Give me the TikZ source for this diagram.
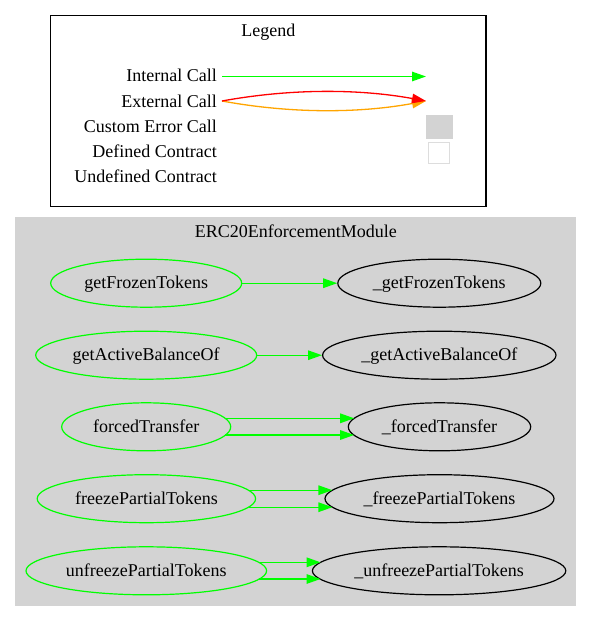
\documentclass[tikz,border=0pt]{standalone}
\usepackage{fontspec}
\setmainfont{Liberation Serif}
\usetikzlibrary{shapes.geometric,arrows.meta,calc}
\definecolor{clgray}{HTML}{D3D3D3}
\definecolor{lime}{HTML}{00FF00}
\definecolor{orng}{HTML}{FFA500}
\definecolor{boxgray}{HTML}{DDDDDD}
\begin{document}
\begin{tikzpicture}[x=1pt,y=-1pt,
  every node/.style={font=\fontsize{18}{21.6}\selectfont},
  fn/.style={ellipse, draw=lime, line width=1.2pt, minimum height=48pt, inner sep=0pt, text height=13pt, text depth=2pt},
  rn/.style={ellipse, draw=black, line width=1.2pt, minimum height=48pt, inner sep=0pt, text height=13pt, text depth=2pt},
  call/.style={draw=lime, line width=1.4pt, -{Triangle[length=14pt,width=9.5pt]}},
  redcall/.style={draw=red, line width=1.3pt, -{Triangle[length=14pt,width=9.5pt]}},
  orcall/.style={draw=orng, line width=1.3pt, -{Triangle[length=14pt,width=9.5pt]}},
  lbl/.style={anchor=base east, inner sep=0pt},
  ttl/.style={anchor=base, inner sep=0pt}
]
\useasboundingbox (0,0) rectangle (592,621);
\fill[white] (0,0) rectangle (592,621);

% Legend
\node[draw=black, line width=1.1pt, minimum width=435.5pt, minimum height=190.8pt, inner sep=0pt] (legend) at (268.25,110.9) {};
\node[ttl] (legendtitle) at (268.3,36) {Legend};
\node[lbl] (lint) at (217,81.8) {Internal Call};
\node[lbl] (lext) at (217,107) {External Call};
\node[lbl] (lerr) at (217,132.2) {Custom Error Call};
\node[lbl] (ldef) at (217,157.4) {Defined Contract};
\node[lbl] (lund) at (217,182.6) {Undefined Contract};
\coordinate (ic1) at (222,76.5);
\coordinate (ic2) at (426,76.5);
\coordinate (ec1) at (222,101);
\coordinate (ec2) at (426,101);
\draw[call] (ic1) -- (ic2);
\draw[orcall] (ec1) .. controls (290,113.5) and (358,113.5) .. (ec2);
\draw[redcall] (ec1) .. controls (290,88.6) and (358,88.6) .. (ec2);
\node[fill=clgray, minimum width=26.7pt, minimum height=24.3pt, inner sep=0pt] (errbox) at (439.3,127.2) {};
\node[draw=boxgray, line width=1.3pt, minimum width=21pt, minimum height=21pt, inner sep=0pt] (defbox) at (439.2,153.3) {};

% Cluster
\node[fill=clgray, minimum width=561pt, minimum height=389pt, inner sep=0pt] (module) at (295.8,411.2) {};
\node[ttl] (moduletitle) at (295.8,237.7) {ERC20EnforcementModule};

\node[fn, minimum width=191pt] (gft) at (146.2,283.2) {getFrozenTokens};
\node[rn, minimum width=203pt] (rgft) at (439.3,283.2) {\_getFrozenTokens};
\node[fn, minimum width=221pt] (gab) at (146.2,355.2) {getActiveBalanceOf};
\node[rn, minimum width=233.4pt] (rgab) at (439.3,355.2) {\_getActiveBalanceOf};
\node[fn, minimum width=169pt] (ft) at (146.2,426.8) {forcedTransfer};
\node[rn, minimum width=182.4pt] (rft) at (439.5,426.8) {\_forcedTransfer};
\node[fn, minimum width=218.4pt] (fpt) at (146.4,498.7) {freezePartialTokens};
\node[rn, minimum width=229pt] (rfpt) at (439.5,498.7) {\_freezePartialTokens};
\node[fn, minimum width=240.6pt] (upt) at (146.3,570.8) {unfreezePartialTokens};
\node[rn, minimum width=253.4pt] (rupt) at (439.1,570.8) {\_unfreezePartialTokens};

\draw[call] (gft.east) -- (rgft.west);
\draw[call] (gab.east) -- (rgab.west);
\draw[call] ($(ft.center)+(79.0,-8.5)$) -- ($(rft.center)+(-85.3,-8.5)$);
\draw[call] ($(ft.center)+(79.0,8.2)$) -- ($(rft.center)+(-85.4,8.2)$);
\draw[call] ($(fpt.center)+(102.1,-8.5)$) -- ($(rfpt.center)+(-107.1,-8.5)$);
\draw[call] ($(fpt.center)+(102.1,8.5)$) -- ($(rfpt.center)+(-107.1,8.5)$);
\draw[call] ($(upt.center)+(112.5,-8.5)$) -- ($(rupt.center)+(-118.5,-8.5)$);
\draw[call] ($(upt.center)+(112.6,8.2)$) -- ($(rupt.center)+(-118.6,8.2)$);
\end{tikzpicture}
\end{document}
